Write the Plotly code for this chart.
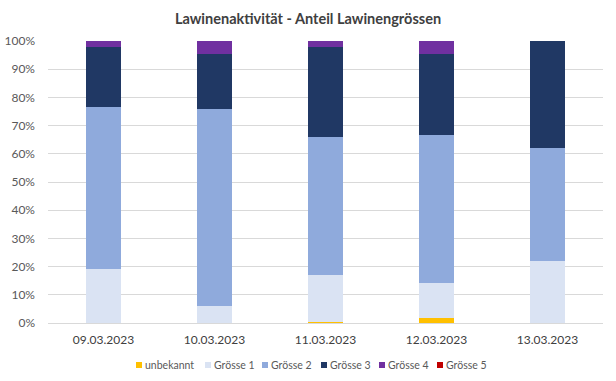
import plotly.graph_objects as go

dates = ["09.03.2023", "10.03.2023", "11.03.2023", "12.03.2023", "13.03.2023"]
unbekannt = [0.0, 0.0, 0.5, 1.7, 0.0]
groesse1 = [19.0, 6.2, 16.5, 12.6, 22.1]
groesse2 = [57.5, 69.8, 48.9, 52.2, 39.9]
groesse3 = [21.5, 19.5, 32.1, 28.9, 38.0]
groesse4 = [2.0, 4.5, 2.0, 4.6, 0.0]
groesse5 = [0.0, 0.0, 0.0, 0.0, 0.0]

series = [
    ("unbekannt", unbekannt, "#FFC000"),
    ("Grösse 1", groesse1, "#DAE3F3"),
    ("Grösse 2", groesse2, "#8FAADC"),
    ("Grösse 3", groesse3, "#203864"),
    ("Grösse 4", groesse4, "#7030A0"),
    ("Grösse 5", groesse5, "#C00000"),
]

W, H = 616, 381
ML, MR, MT, MB = 48, 13, 41, 58
PW, PH = W - ML - MR, H - MT - MB

fig = go.Figure()
for name, vals, col in series:
    fig.add_trace(go.Bar(x=dates, y=[v / 100 for v in vals], name=name,
                         marker=dict(color=col, line=dict(width=0))))

font = "Lato, 'Open Sans', sans-serif"

# custom legend (compact, like the original)
legend_px = [136, 205, 262, 321, 379, 437]
legend_y_px = 365
ly = (H - MB - legend_y_px) / PH
for (name, vals, col), px in zip(series, legend_px):
    lx = (px - ML) / PW
    fig.add_shape(type="rect", xref="paper", yref="paper",
                  xsizemode="pixel", ysizemode="pixel",
                  xanchor=lx, yanchor=ly, x0=0, x1=6, y0=-3, y1=3,
                  fillcolor=col, line=dict(width=0))
    fig.add_annotation(xref="paper", yref="paper", x=lx, y=ly, xanchor="left",
                       yanchor="middle", xshift=7, showarrow=False, text=name,
                       font=dict(family=font, size=10.5, color="#595959"))

fig.update_layout(
    width=W, height=H,
    barmode="stack", bargap=0.69,
    margin=dict(l=ML, r=MR, t=MT, b=MB, autoexpand=False),
    plot_bgcolor="white", paper_bgcolor="white",
    title=dict(text="Lawinenaktivität - Anteil Lawinengrössen", x=0.5, xanchor="center",
               xref="container", yref="container", y=1 - 19 / H, yanchor="middle",
               font=dict(family=font, size=14.5, color="#404040", weight="bold")),
    font=dict(family=font, size=12, color="#595959"),
    yaxis=dict(range=[0, 1], tickformat=".0%", dtick=0.1, showgrid=True,
               gridcolor="#D9D9D9", gridwidth=1, zeroline=False, ticks="",
               automargin=False, ticklabelstandoff=12,
               tickfont=dict(size=12, color="#595959")),
    xaxis=dict(showline=True, linecolor="#D9D9D9", linewidth=1, ticks="",
               automargin=False, tickfont=dict(size=12, color="#404040"),
               ticklabelstandoff=6),
    showlegend=False,
)
fig.write_html("out.html", config={"displayModeBar": False},
               post_script="document.body.style.margin='0';document.body.style.overflow='hidden';")
